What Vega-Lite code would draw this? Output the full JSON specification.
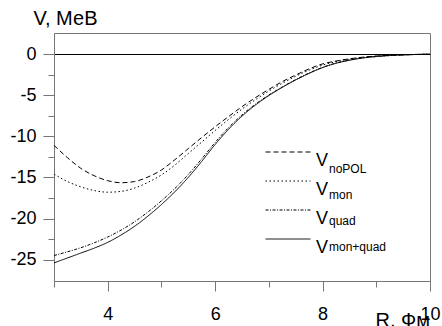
{
  "$schema": "https://vega.github.io/schema/vega-lite/v6.json",
  "autosize": "none",
  "width": 376,
  "height": 248,
  "padding": {"left": 54, "top": 33, "right": 12, "bottom": 45},
  "background": "white",
  "config": {"view": {"stroke": "#777"}, "font": "Liberation Sans"},
  "data": {"values": [
    {"R":3,"V":-11.1,"curve":"noPOL"},{"R":3.25,"V":-12.6,"curve":"noPOL"},{"R":3.5,"V":-13.9,"curve":"noPOL"},{"R":3.75,"V":-14.8,"curve":"noPOL"},{"R":4,"V":-15.4,"curve":"noPOL"},{"R":4.25,"V":-15.65,"curve":"noPOL"},{"R":4.5,"V":-15.5,"curve":"noPOL"},{"R":4.75,"V":-14.95,"curve":"noPOL"},{"R":5,"V":-14.1,"curve":"noPOL"},{"R":5.25,"V":-12.85,"curve":"noPOL"},{"R":5.5,"V":-11.5,"curve":"noPOL"},{"R":5.75,"V":-10.15,"curve":"noPOL"},{"R":6,"V":-8.85,"curve":"noPOL"},{"R":6.25,"V":-7.6,"curve":"noPOL"},{"R":6.5,"V":-6.4,"curve":"noPOL"},{"R":6.75,"V":-5.3,"curve":"noPOL"},{"R":7,"V":-4.3,"curve":"noPOL"},{"R":7.25,"V":-3.35,"curve":"noPOL"},{"R":7.5,"V":-2.55,"curve":"noPOL"},{"R":7.75,"V":-1.8,"curve":"noPOL"},{"R":8,"V":-1.2,"curve":"noPOL"},{"R":8.25,"V":-0.85,"curve":"noPOL"},{"R":8.5,"V":-0.58,"curve":"noPOL"},{"R":8.75,"V":-0.38,"curve":"noPOL"},{"R":9,"V":-0.24,"curve":"noPOL"},{"R":9.25,"V":-0.15,"curve":"noPOL"},{"R":9.5,"V":-0.09,"curve":"noPOL"},{"R":9.75,"V":-0.05,"curve":"noPOL"},{"R":10,"V":-0.02,"curve":"noPOL"},
    {"R":3,"V":-14.6,"curve":"mon"},{"R":3.25,"V":-15.5,"curve":"mon"},{"R":3.5,"V":-16.15,"curve":"mon"},{"R":3.75,"V":-16.6,"curve":"mon"},{"R":4,"V":-16.8,"curve":"mon"},{"R":4.25,"V":-16.7,"curve":"mon"},{"R":4.5,"V":-16.3,"curve":"mon"},{"R":4.75,"V":-15.6,"curve":"mon"},{"R":5,"V":-14.7,"curve":"mon"},{"R":5.25,"V":-13.5,"curve":"mon"},{"R":5.5,"V":-12.1,"curve":"mon"},{"R":5.75,"V":-10.7,"curve":"mon"},{"R":6,"V":-9.3,"curve":"mon"},{"R":6.25,"V":-7.95,"curve":"mon"},{"R":6.5,"V":-6.7,"curve":"mon"},{"R":6.75,"V":-5.55,"curve":"mon"},{"R":7,"V":-4.5,"curve":"mon"},{"R":7.25,"V":-3.55,"curve":"mon"},{"R":7.5,"V":-2.7,"curve":"mon"},{"R":7.75,"V":-1.95,"curve":"mon"},{"R":8,"V":-1.35,"curve":"mon"},{"R":8.25,"V":-0.92,"curve":"mon"},{"R":8.5,"V":-0.62,"curve":"mon"},{"R":8.75,"V":-0.4,"curve":"mon"},{"R":9,"V":-0.26,"curve":"mon"},{"R":9.25,"V":-0.16,"curve":"mon"},{"R":9.5,"V":-0.1,"curve":"mon"},{"R":9.75,"V":-0.05,"curve":"mon"},{"R":10,"V":-0.02,"curve":"mon"},
    {"R":3,"V":-24.5,"curve":"quad"},{"R":3.25,"V":-24.05,"curve":"quad"},{"R":3.5,"V":-23.55,"curve":"quad"},{"R":3.75,"V":-22.95,"curve":"quad"},{"R":4,"V":-22.25,"curve":"quad"},{"R":4.25,"V":-21.4,"curve":"quad"},{"R":4.5,"V":-20.4,"curve":"quad"},{"R":4.75,"V":-19.2,"curve":"quad"},{"R":5,"V":-17.85,"curve":"quad"},{"R":5.25,"V":-16.35,"curve":"quad"},{"R":5.5,"V":-14.65,"curve":"quad"},{"R":5.75,"V":-12.75,"curve":"quad"},{"R":6,"V":-10.75,"curve":"quad"},{"R":6.25,"V":-8.95,"curve":"quad"},{"R":6.5,"V":-7.4,"curve":"quad"},{"R":6.75,"V":-6.1,"curve":"quad"},{"R":7,"V":-4.98,"curve":"quad"},{"R":7.25,"V":-4.0,"curve":"quad"},{"R":7.5,"V":-3.1,"curve":"quad"},{"R":7.75,"V":-2.3,"curve":"quad"},{"R":8,"V":-1.62,"curve":"quad"},{"R":8.25,"V":-1.1,"curve":"quad"},{"R":8.5,"V":-0.74,"curve":"quad"},{"R":8.75,"V":-0.47,"curve":"quad"},{"R":9,"V":-0.3,"curve":"quad"},{"R":9.25,"V":-0.18,"curve":"quad"},{"R":9.5,"V":-0.1,"curve":"quad"},{"R":9.75,"V":-0.05,"curve":"quad"},{"R":10,"V":-0.02,"curve":"quad"},
    {"R":3,"V":-25.4,"curve":"mon+quad"},{"R":3.25,"V":-24.8,"curve":"mon+quad"},{"R":3.5,"V":-24.2,"curve":"mon+quad"},{"R":3.75,"V":-23.6,"curve":"mon+quad"},{"R":4,"V":-22.9,"curve":"mon+quad"},{"R":4.25,"V":-22.0,"curve":"mon+quad"},{"R":4.5,"V":-20.95,"curve":"mon+quad"},{"R":4.75,"V":-19.7,"curve":"mon+quad"},{"R":5,"V":-18.3,"curve":"mon+quad"},{"R":5.25,"V":-16.75,"curve":"mon+quad"},{"R":5.5,"V":-15.0,"curve":"mon+quad"},{"R":5.75,"V":-13.05,"curve":"mon+quad"},{"R":6,"V":-11.0,"curve":"mon+quad"},{"R":6.25,"V":-9.15,"curve":"mon+quad"},{"R":6.5,"V":-7.55,"curve":"mon+quad"},{"R":6.75,"V":-6.2,"curve":"mon+quad"},{"R":7,"V":-5.05,"curve":"mon+quad"},{"R":7.25,"V":-4.05,"curve":"mon+quad"},{"R":7.5,"V":-3.15,"curve":"mon+quad"},{"R":7.75,"V":-2.35,"curve":"mon+quad"},{"R":8,"V":-1.65,"curve":"mon+quad"},{"R":8.25,"V":-1.12,"curve":"mon+quad"},{"R":8.5,"V":-0.75,"curve":"mon+quad"},{"R":8.75,"V":-0.48,"curve":"mon+quad"},{"R":9,"V":-0.3,"curve":"mon+quad"},{"R":9.25,"V":-0.18,"curve":"mon+quad"},{"R":9.5,"V":-0.1,"curve":"mon+quad"},{"R":9.75,"V":-0.05,"curve":"mon+quad"},{"R":10,"V":-0.02,"curve":"mon+quad"}
  ]},
  "mark": {"type": "line", "strokeWidth": 1, "interpolate": "monotone"},
  "encoding": {
    "x": {
      "field": "R", "type": "quantitative",
      "scale": {"domain": [3, 10], "nice": false, "zero": false},
      "axis": {
        "values": [3, 4, 5, 6, 7, 8, 9, 10],
        "labelExpr": "datum.value % 2 == 0 ? '' + datum.value : ''",
        "tickSize": {"condition": {"test": "datum.value % 2 == 0", "value": 10}, "value": 6},
        "domainColor": "#777", "tickColor": "#777", "grid": false,
        "labelFontSize": 18, "labelColor": "black", "labelPadding": 14,
        "labelFlush": false, "labelOverlap": false,
        "title": "R, Фм", "titleFontSize": 20, "titleFontWeight": "normal", "titleColor": "black",
        "titleX": 321, "titleY": 45, "titleAlign": "left", "titleBaseline": "alphabetic", "titleAnchor": "start"
      }
    },
    "y": {
      "field": "V", "type": "quantitative",
      "scale": {"domain": [-27.6, 2.56], "nice": false, "zero": false},
      "axis": {
        "values": [-25, -22.5, -20, -17.5, -15, -12.5, -10, -7.5, -5, -2.5, 0],
        "labelExpr": "datum.value % 5 == 0 ? '' + datum.value : ''",
        "tickSize": {"condition": {"test": "datum.value % 5 == 0", "value": 11}, "value": 6},
        "domainColor": "#777", "tickColor": "#777",
        "grid": true,
        "gridColor": "black", "gridWidth": 1,
        "gridOpacity": {"condition": {"test": "datum.value == 0", "value": 1}, "value": 0},
        "labelFontSize": 18, "labelColor": "black", "labelPadding": 7,
        "labelFlush": false, "labelOverlap": false,
        "title": "V, МеВ", "titleFontSize": 20, "titleFontWeight": "normal", "titleColor": "black",
        "titleAngle": 0, "titleX": -21, "titleY": -9, "titleAlign": "left", "titleBaseline": "alphabetic", "titleAnchor": "start"
      }
    },
    "strokeDash": {
      "field": "curve", "type": "nominal",
      "scale": {"domain": ["noPOL", "mon", "quad", "mon+quad"], "range": [[5, 3], [1.5, 2.5], [3, 1.5, 1, 1.5], [1, 0]]},
      "legend": {
        "orient": "none", "legendX": 211, "legendY": 108, "title": null,
        "symbolType": "stroke", "symbolSize": 2025, "symbolStrokeWidth": 1, "symbolStrokeColor": "black",
        "labelExpr": "'V'", "labelFontSize": 18, "labelBaseline": "top", "labelOffset": 5, "labelColor": "black",
        "clipHeight": 22, "rowPadding": 0, "padding": 0
      }
    },
    "color": {
      "field": "curve", "type": "nominal",
      "sort": ["noPOL", "mon", "quad", "mon+quad"],
      "scale": {"range": ["black", "black", "black", "black"]},
      "legend": {
        "orient": "none", "legendX": 261, "legendY": 127, "title": null,
        "symbolType": "stroke", "symbolSize": 4, "symbolOpacity": 0,
        "labelFontSize": 12, "labelBaseline": "alphabetic", "labelOffset": 2, "labelColor": "black",
        "clipHeight": 26, "rowPadding": 0, "padding": 0
      }
    }
  }
}
